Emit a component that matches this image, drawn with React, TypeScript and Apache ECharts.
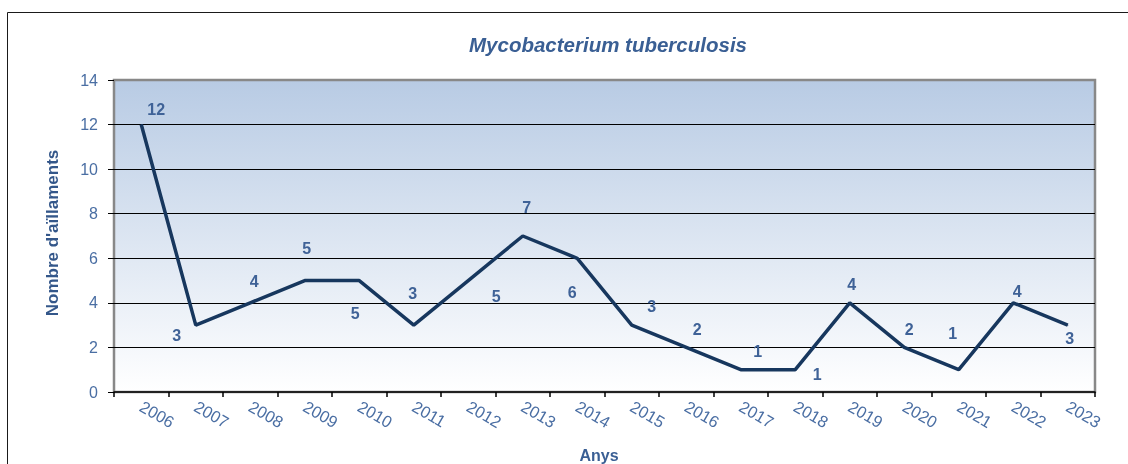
import React, { useEffect, useRef } from "react";
import * as echarts from "echarts";

const years = ["2006","2007","2008","2009","2010","2011","2012","2013","2014","2015","2016","2017","2018","2019","2020","2021","2022","2023"];
const isolates = [12, 3, 4, 5, 5, 3, 5, 7, 6, 3, 2, 1, 1, 4, 2, 1, 4, 3];
const labelOffsets: [number, number][] = [
  [15, -15], [-19, 10], [4, -21], [2, -32], [-4, 33], [-1, -32], [28, 16], [4, -29], [-5, 34],
  [20, -19], [11, -18], [17, -18], [22, 5], [2, -18], [5, -18], [-6, -36], [4, -11], [2, 13],
];
const xAxisTitle = "Anys";
const yAxisTitle = "Nombre d'aïllaments";

const FONT = "'Liberation Sans', Arial, sans-serif";

export default function App() {
  const ref = useRef<HTMLDivElement>(null);
  useEffect(() => {
    if (!ref.current) return;
    const chart = echarts.init(ref.current, undefined, { renderer: "svg" });
    chart.setOption({
      animation: false,
      textStyle: { fontFamily: FONT },
      title: {
        text: "Mycobacterium tuberculosis",
        left: 603,
        top: 29,
        textAlign: "center",
        textStyle: { fontFamily: FONT, fontSize: 20.5, fontWeight: "bold", fontStyle: "italic", color: "#3a5f94" },
      },
      graphic: [
        {
          type: "rect",
          shape: { x: 7.5, y: 12.5, width: 1140, height: 480 },
          style: { fill: "none", stroke: "#1a1a1a", lineWidth: 1 },
          silent: true,
          z: -10,
        },
        {
          type: "text",
          x: 52,
          y: 233,
          rotation: Math.PI / 2,
          style: {
            text: yAxisTitle,
            fontFamily: FONT,
            fontSize: 17,
            fontWeight: "bold",
            fill: "#34578a",
            align: "center",
            verticalAlign: "middle",
          },
        },
        {
          type: "text",
          x: 599,
          y: 455,
          style: {
            text: xAxisTitle,
            fontFamily: FONT,
            fontSize: 16,
            fontWeight: "bold",
            fill: "#3a5f94",
            align: "center",
            verticalAlign: "middle",
          },
        },
      ],
      grid: {
        left: 114,
        top: 80,
        right: 33,
        bottom: 72,
        outerBoundsMode: "none",
        containLabel: false,
        show: true,
        backgroundColor: new echarts.graphic.LinearGradient(0, 0, 0, 1, [
          { offset: 0, color: "#b8cbe4" },
          { offset: 1, color: "#ffffff" },
        ]),
        borderColor: "#888888",
        borderWidth: 2.5,
      },
      xAxis: {
        type: "category",
        data: years,
        boundaryGap: true,
        axisLine: { show: true, lineStyle: { color: "#000000", width: 1.5 } },
        axisTick: { show: true, alignWithLabel: false, length: 5, lineStyle: { color: "#000000", width: 1.5 } },
        axisLabel: {
          interval: 0,
          rotate: -30,
          margin: 13,
          fontSize: 16.5,
          fontFamily: FONT,
          color: "#4a6ea3",
        },
        splitLine: { show: false },
      },
      yAxis: {
        type: "value",
        min: 0,
        max: 14,
        interval: 2,
        axisLine: { show: false },
        axisTick: { show: true, length: 6, lineStyle: { color: "#000000", width: 1 } },
        axisLabel: { fontSize: 16, fontFamily: FONT, color: "#4a6ea3", margin: 16 },
        splitLine: { show: true, showMinLine: false, showMaxLine: false, lineStyle: { color: "#000000", width: 1 } },
      },
      series: [
        {
          type: "line",
          data: isolates.map((v, i) => ({ value: v, label: { offset: labelOffsets[i] } })),
          symbol: "circle",
          symbolSize: 1,
          showSymbol: true,
          itemStyle: { color: "#17375e" },
          lineStyle: { color: "#17375e", width: 3.5 },
          label: {
            show: true,
            position: "inside",
            fontFamily: FONT,
            fontSize: 16,
            fontWeight: "bold",
            color: "#3f6297",
          },
        },
      ],
    });
    return () => chart.dispose();
  }, []);
  return <div ref={ref} style={{ position: "fixed", left: 0, top: 0, width: 1128, height: 464 }} />;
}
